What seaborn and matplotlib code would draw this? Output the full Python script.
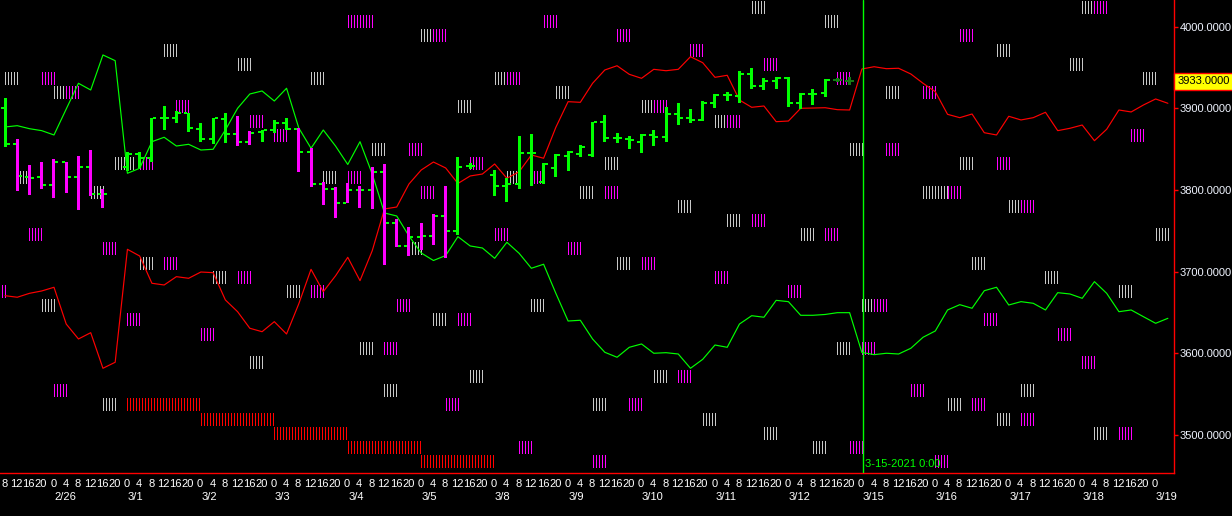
import numpy as np
import pandas as pd
import matplotlib
matplotlib.use("Agg")
import matplotlib.pyplot as plt
import matplotlib.transforms as mtransforms
import seaborn as sns

# time axis: 4h bars, first bar is 2/25 8:00
days = ['2/25', '2/26', '3/1', '3/2', '3/3', '3/4', '3/5', '3/8', '3/9',
        '3/10', '3/11', '3/12', '3/15', '3/16', '3/17', '3/18', '3/19']
hours = [0, 4, 8, 12, 16, 20]
first_hour = 8
n_slots = 96
last_label = ('3/19', 0)
marker_time = ('3/15', 0)
marker_text = '3-15-2021 0:00'
last_price = 3933.0

nan = np.nan
# OHLC bars (price), '.' = no bar
bar_high = [3912.25, 3862.5, 3830.5, 3834.25, 3838.0, 3834.75, 3841.75, 3849.0, 3801.25, nan,
            3846.25, 3846.5, 3887.75, 3903.0, 3896.75, 3894.0, 3881.75, 3887.75, 3894.0, 3890.75,
            3872.25, 3873.5, 3885.75, 3887.75, 3876.25, 3851.75, 3810.25, 3804.0, 3808.25, 3805.0,
            3827.75, 3832.0, 3764.25, 3754.5, 3759.25, 3770.5, 3805.0, 3840.0, 3833.0, nan,
            3824.5, 3814.5, 3866.25, 3868.5, 3833.5, 3844.0, 3847.75, 3855.0, 3883.75, 3892.0,
            3870.25, 3866.25, 3868.25, 3873.5, 3902.0, 3907.0, 3899.25, 3909.0, 3917.5, 3920.5,
            3945.75, 3949.0, 3937.5, 3938.75, 3938.0, 3919.25, 3923.75, 3936.0, 3936.75, 3938.0]
bar_low = [3853.0, 3798.75, 3794.0, 3801.25, 3790.5, 3796.75, 3775.5, 3793.0, 3778.5, nan,
           3823.25, 3827.0, 3834.75, 3873.5, 3882.5, 3871.5, 3859.25, 3856.0, 3858.0, 3854.0,
           3855.0, 3859.25, 3869.5, 3873.5, 3822.5, 3804.0, 3781.75, 3766.0, 3783.75, 3778.5,
           3776.75, 3708.25, 3730.5, 3719.5, 3726.5, 3732.75, 3717.0, 3745.0, 3825.5, nan,
           3792.75, 3785.75, 3801.25, 3805.25, 3807.5, 3815.5, 3823.75, 3840.0, 3840.75, 3859.25,
           3858.0, 3850.25, 3845.75, 3854.0, 3859.25, 3879.5, 3882.5, 3885.0, 3900.75, 3909.0,
           3907.0, 3923.75, 3922.5, 3923.75, 3902.0, 3899.25, 3904.0, 3913.5, 3932.0, 3928.5]
bar_open = [3900.75, 3856.5, 3816.25, 3815.5, 3806.5, 3834.75, 3815.5, 3828.5, 3795.0, nan,
            3828.5, 3843.75, 3839.5, 3888.5, 3888.5, 3894.0, 3875.0, 3862.0, 3886.5, 3868.25,
            3859.25, 3871.5, 3873.5, 3881.75, 3874.75, 3847.0, 3807.0, 3801.25, 3784.5, 3800.0,
            3800.0, 3822.5, 3760.0, 3731.5, 3743.0, 3743.75, 3768.25, 3750.25, 3829.5, nan,
            3818.5, 3805.0, 3807.5, 3845.0, 3810.25, 3826.5, 3841.75, 3844.0, 3843.0, 3883.0,
            3864.0, 3862.0, 3859.25, 3867.5, 3865.25, 3893.0, 3888.5, 3885.75, 3906.25, 3916.5,
            3915.25, 3941.75, 3927.75, 3934.0, 3937.5, 3906.25, 3917.5, 3918.5, 3934.75, 3933.0]
bar_close = [3856.5, 3817.25, 3815.0, 3806.5, 3834.75, 3815.5, 3828.5, 3795.0, 3795.0, nan,
             3843.75, 3839.5, 3887.75, 3888.5, 3894.0, 3875.5, 3862.0, 3887.75, 3868.25, 3859.25,
             3870.25, 3873.5, 3882.5, 3874.75, 3847.0, 3807.5, 3801.5, 3784.5, 3800.0, 3800.0,
             3822.5, 3760.0, 3731.5, 3743.0, 3743.75, 3768.25, 3750.25, 3828.5, 3829.5, nan,
             3805.0, 3807.5, 3845.0, 3845.5, 3832.0, 3843.0, 3846.25, 3852.25, 3883.0, 3864.0,
             3864.0, 3861.25, 3867.5, 3865.25, 3893.0, 3888.5, 3885.75, 3907.0, 3916.5, 3916.5,
             3941.75, 3927.75, 3934.0, 3937.5, 3906.25, 3917.5, 3917.5, 3934.75, 3934.75, 3933.0]
bar_color = ('g' + 'mmmmmmmm' + '.' + 'ggggggggg' + 'mm' + 'ggg' + 'mmmmmmmmmmmmm' + 'gg' + '.'
             + 'gggggggggggggggggggggggggggg' + 'dd')

# two bands, one value per slot
red_line = [3670.6, 3668.7, 3673.5, 3676.4, 3680.9, 3635.9, 3617.6, 3625.3, 3581.7, 3589.1,
            3727.4, 3719.2, 3685.8, 3683.7, 3693.9, 3691.9, 3699.6, 3698.8, 3665.4, 3651.0,
            3630.7, 3626.5, 3638.8, 3623.7, 3660.7, 3702.9, 3675.5, 3694.9, 3717.6, 3689.0,
            3725.7, 3776.8, 3779.2, 3807.4, 3824.5, 3834.3, 3827.0, 3808.0, 3817.2, 3819.6,
            3831.9, 3814.4, 3822.4, 3842.9, 3838.9, 3876.8, 3908.2, 3907.4, 3930.7, 3947.0,
            3952.2, 3941.7, 3936.8, 3947.8, 3946.1, 3947.8, 3963.3, 3955.9, 3938.0, 3940.5,
            3910.2, 3901.3, 3902.9, 3883.7, 3884.5, 3900.1, 3900.4, 3900.8, 3898.4, 3898.0,
            3948.2, 3951.0, 3948.6, 3949.1, 3942.1, 3930.7, 3920.4, 3892.7, 3888.6, 3893.1,
            3870.2, 3867.4, 3890.3, 3885.8, 3888.6, 3895.2, 3872.7, 3875.6, 3879.6, 3860.4,
            3874.4, 3898.0, 3895.6, 3904.1, 3911.5, 3906.2]
green_line = [3877.2, 3878.8, 3875.1, 3872.7, 3867.4, 3899.2, 3930.7, 3922.5, 3965.4, 3958.4,
              3820.5, 3826.6, 3859.2, 3864.6, 3853.9, 3856.0, 3849.0, 3849.9, 3873.5, 3900.1,
              3917.6, 3921.3, 3909.0, 3924.6, 3875.9, 3851.1, 3873.5, 3853.9, 3831.3, 3859.2,
              3819.6, 3771.9, 3768.2, 3743.7, 3722.9, 3713.7, 3719.8, 3742.9, 3731.5, 3729.0,
              3716.4, 3736.0, 3722.5, 3704.2, 3709.1, 3673.5, 3639.6, 3640.5, 3617.6, 3601.3,
              3595.2, 3607.4, 3611.5, 3600.1, 3600.8, 3599.2, 3581.7, 3592.7, 3610.2, 3607.4,
              3635.9, 3646.1, 3644.2, 3664.9, 3663.3, 3646.6, 3646.6, 3647.6, 3649.8, 3649.8,
              3601.1, 3598.4, 3600.1, 3599.2, 3606.2, 3619.7, 3627.4, 3653.1, 3659.6, 3655.2,
              3676.7, 3680.9, 3659.2, 3663.3, 3661.3, 3653.1, 3674.3, 3672.7, 3667.4, 3687.8,
              3673.5, 3651.0, 3653.1, 3644.9, 3636.8, 3642.9]

# "|||||" signal marks: slot where the mark starts, price level
grey_slot = [0, 4, 13, 19, 25, 9, 1, 7, 26, 30, 3, 11, 17, 23, 20, 29, 33, 34, 40, 45,
             37, 52, 41, 58, 69, 49, 47, 55, 59, 65, 50, 43, 35, 68, 38, 53, 48, 8, 31, 61,
             67, 81, 87, 93, 72, 78, 75, 76, 82, 94, 79, 85, 91, 70, 57, 62, 66, 83, 77, 81,
             89, 88]
grey_level = [3936.5, 3919.25, 3971.25, 3954.0, 3936.5, 3832.25, 3815.0, 3797.5, 3815.0, 3849.5,
              3658.5, 3710.5, 3693.0, 3675.75, 3588.75, 3606.25, 3728.0, 3988.75, 3936.5, 3919.25,
              3901.75, 3901.75, 3815.0, 3884.5, 3849.5, 3832.25, 3797.5, 3780.0, 3762.75, 3745.25,
              3710.5, 3658.5, 3641.0, 3606.25, 3571.5, 3571.5, 3536.75, 3536.75, 3554.0, 4023.5,
              4006.0, 3971.25, 3954.0, 3936.5, 3919.25, 3832.25, 3797.5, 3797.5, 3780.0, 3745.25,
              3710.5, 3693.0, 3675.75, 3658.5, 3519.25, 3502.0, 3484.5, 3554.0, 3536.75, 3519.25,
              3502.0, 4023.5]
magenta_slot = [3, 5, 14, 20, 22, 11, 28, 33, -1, 2, 8, 13, 10, 19, 16, 25, 31, 32, 4, 36,
                28, 29, 44, 35, 50, 56, 62, 41, 53, 59, 38, 34, 43, 49, 61, 40, 67, 46, 52, 58,
                64, 37, 55, 51, 42, 48, 69, 68, 70, 71, 78, 75, 92, 72, 81, 77, 83, 80, 86, 88,
                74, 79, 83, 91, 76, 89]
magenta_level = [3936.5, 3919.25, 3901.75, 3884.5, 3867.0, 3832.25, 3815.0, 3849.5, 3675.75, 3745.25,
                 3728.0, 3710.5, 3641.0, 3693.0, 3623.5, 3675.75, 3606.25, 3658.5, 3554.0, 3536.75,
                 4006.0, 4006.0, 4006.0, 3988.75, 3988.75, 3971.25, 3954.0, 3936.5, 3901.75, 3884.5,
                 3832.25, 3797.5, 3815.0, 3797.5, 3762.75, 3745.25, 3745.25, 3728.0, 3710.5, 3693.0,
                 3675.75, 3641.0, 3571.5, 3536.75, 3484.5, 3467.0, 3484.5, 3936.5, 3606.25, 3658.5,
                 3988.75, 3919.25, 3867.0, 3849.5, 3832.25, 3797.5, 3780.0, 3641.0, 3623.5, 3588.75,
                 3554.0, 3536.75, 3519.25, 3502.0, 3467.0, 4023.5]
wide_grey_slot = [9]       # this one is 7 strokes wide
# red daily staircase: first slot of each day and its level
step_slot = [10, 16, 22, 28, 34]
step_level = [3536.75, 3519.25, 3502.0, 3484.5, 3467.0]
step_len = 6

# ---------- slots ----------
slots = [(d, h) for d in days for h in hours]
start = slots.index((days[0], first_hour))
slots = slots[start:start + n_slots]
x_all = np.arange(n_slots)

sns.set_theme(style="dark", rc={"axes.facecolor": "black", "figure.facecolor": "black",
                                "axes.grid": False, "savefig.facecolor": "black"})
plt.rcParams['font.family'] = ['Liberation Sans', 'DejaVu Sans']

W, H = 1232, 516
fig = plt.figure(figsize=(W / 100, H / 100), dpi=100)
ax_w, ax_h = 1174, 473.3
ax = fig.add_axes([0, 1 - ax_h / H, ax_w / W, ax_h / H])
ax.set_xlim(-0.41, 95.43)
ax.set_ylim(3453.1, 4032.7)

# size of one pixel in data units
px_x = (95.43 + 0.41) / ax_w
px_y = (4032.7 - 3453.1) / ax_h


def rects(x_left, bottom, height, width, color, z):
    # crisp pixel rectangles (no anti-aliasing), like the terminal draws
    ax.bar(x_left, height, width=width, bottom=bottom, align='edge', color=color,
           linewidth=0, antialiased=False, zorder=z)


def draw_marks(slot_list, level_list, color, wide=()):
    xs, lv = [], []
    for s, l in zip(slot_list, level_list):
        k = 7 if s in wide else 5
        for j in range(k):
            xs.append(s + j * 3 * px_x)
            lv.append(l)
    rects(xs, np.asarray(lv) - 6.5 * px_y, 13 * px_y, px_x, color, 1)


draw_marks(grey_slot, grey_level, '#c8c8c8', wide=wide_grey_slot)
draw_marks(magenta_slot, magenta_level, '#ff00ff')
for s, l in zip(step_slot, step_level):
    xs = np.arange(s, s + step_len, 3 * px_x)
    rects(xs, l - 6.5 * px_y, 13 * px_y, px_x, '#ff0000', 1)

# bands
bands = pd.DataFrame({'slot': x_all, 'red': red_line, 'green': green_line})
sns.lineplot(data=bands, x='slot', y='red', color='#ff0000', lw=0.85, ax=ax, zorder=2)
sns.lineplot(data=bands, x='slot', y='green', color='#00ff00', lw=0.85, ax=ax, zorder=2)

# OHLC bars
bars = pd.DataFrame({'slot': np.arange(len(bar_high)), 'high': bar_high, 'low': bar_low,
                     'open': bar_open, 'close': bar_close, 'c': list(bar_color)})
bars = bars[bars.c != '.']
body_col = {'g': '#00ff00', 'm': '#ff00ff', 'd': '#157a15'}
tick_col = {'g': '#00ff00', 'm': '#00ff00', 'd': '#157a15'}
bc = [body_col[c] for c in bars.c]
tc = [tick_col[c] for c in bars.c]
rects(bars.slot - 1.5 * px_x, bars.low, bars.high - bars.low, 3 * px_x, bc, 3)
rects(bars.slot - 4.5 * px_x, bars.open - px_y, 2 * px_y, 3 * px_x, tc, 3)
rects(bars.slot + 1.5 * px_x, bars.close - px_y, 2 * px_y, 3 * px_x, tc, 3)

# session marker
mx = slots.index(marker_time)
ax.axvline(mx + 1.5 * px_x, color='#00ff00', lw=1, zorder=4)
blend = mtransforms.blended_transform_factory(ax.transData, ax.transAxes)
ax.annotate(marker_text, xy=(mx, 0), xycoords=blend, xytext=(2.5, 6.5),
            textcoords='offset points', ha='left', va='center', color='#00ff00', fontsize=8)

# axes look
for side in ['left', 'top']:
    ax.spines[side].set_visible(False)
for side in ['right', 'bottom']:
    ax.spines[side].set_color('#ff0000')
    ax.spines[side].set_linewidth(1)

ax.yaxis.tick_right()
ax.set_yticks(np.arange(3500, 4001, 100))
ax.set_yticklabels([f'{v:.4f}' for v in np.arange(3500, 4001, 100)])
ax.tick_params(axis='y', which='major', direction='out', length=3, width=1, color='#ff0000',
               labelcolor='#f0f4ff', labelsize=8, pad=1)
ax.set_ylabel('')
ax.set_xlabel('')

ax.set_xticks(np.arange(n_slots) + 0.5)
ax.set_xticklabels([])
ax.tick_params(axis='x', direction='out', length=3, width=1, color='#ff0000')

n_lab = slots.index(last_label) + 1
for i in range(n_lab):
    d, h = slots[i]
    ax.annotate(str(h), xy=(i, 0), xycoords=blend, xytext=(-0.5, -7.6),
                textcoords='offset points', ha='center', va='center', color='white', fontsize=8)
    if h == 0:
        ax.annotate(d, xy=(i, 0), xycoords=blend, xytext=(0.3, -17.3),
                    textcoords='offset points', ha='left', va='center', color='white',
                    fontsize=8)

# last price box
ax.annotate(f'{last_price:.4f}', xy=(1, last_price),
            xycoords=mtransforms.blended_transform_factory(ax.transAxes, ax.transData),
            xytext=(2.5, 0), textcoords='offset points', ha='left', va='center',
            color='black', fontsize=8,
            bbox=dict(boxstyle='square,pad=0.3', fc='#ffff00', ec='#ff0000', lw=1),
            annotation_clip=False)

fig.savefig('out.png', dpi=100, facecolor='black')
